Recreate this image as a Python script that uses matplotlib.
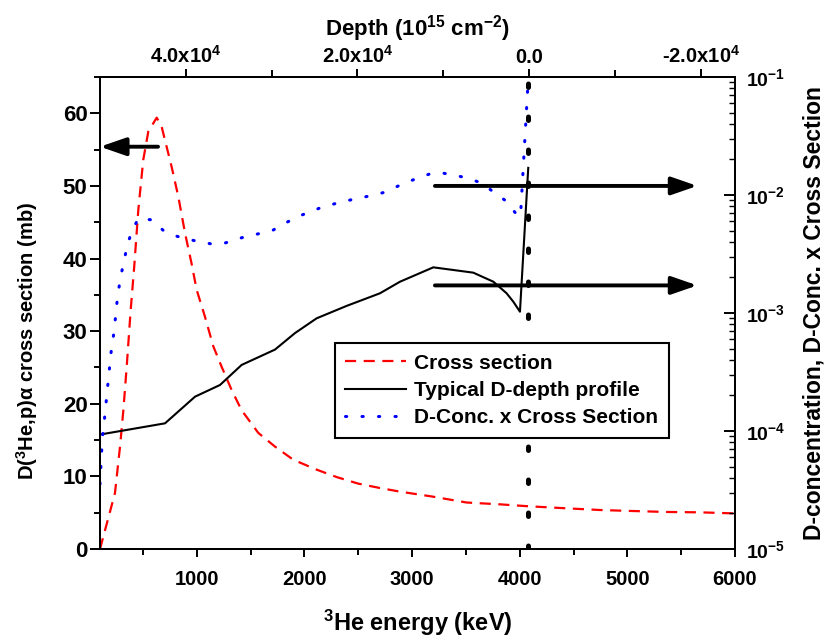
import matplotlib
matplotlib.use("Agg")
import matplotlib.pyplot as plt
from matplotlib.ticker import MultipleLocator, FixedLocator, LogLocator, NullFormatter
from matplotlib.lines import Line2D
import numpy as np

plt.rcParams['font.family'] = ['Liberation Sans', 'DejaVu Sans']
plt.rcParams['font.weight'] = 'bold'
plt.rcParams['mathtext.fontset'] = 'custom'
plt.rcParams['mathtext.rm'] = 'Liberation Sans:bold'
plt.rcParams['mathtext.bf'] = 'Liberation Sans:bold'
plt.rcParams['mathtext.it'] = 'Liberation Sans:bold:italic'
plt.rcParams['mathtext.default'] = 'regular'

# D(3He,p)alpha cross section (mb) vs 3He energy (keV)
xs_energy = [100, 239, 286, 317, 348, 385, 418, 456, 502, 549, 627, 672, 766, 828,
             890, 951, 998, 1075, 1153, 1230, 1323, 1416, 1570, 1726, 1895, 2100,
             2300, 2500, 2700, 2887, 3197, 3507, 3817, 4064, 4436, 4745, 5054,
             5364, 5674, 6000]
xs_value = [0.0, 7.7, 14.1, 19.1, 25.1, 32.9, 38.9, 46.7, 53.6, 57.5, 59.4, 58.2,
            52.6, 48.5, 43.5, 39.3, 35.7, 32.0, 27.9, 25.1, 21.9, 19.1, 16.0, 14.1,
            12.3, 11.0, 9.9, 9.0, 8.4, 7.9, 7.2, 6.4, 6.15, 5.9, 5.6, 5.37, 5.23,
            5.1, 5.05, 4.9]

# typical D-depth profile (D concentration, log10)
prof_energy = [100, 704, 983, 1215, 1416, 1726, 1912, 2113, 2391, 2701, 2887,
               3197, 3568, 3755, 3878, 3940, 4002, 4079]
prof_log = [-4.03, -3.935, -3.709, -3.61, -3.44, -3.31, -3.17, -3.045, -2.94,
            -2.833, -2.735, -2.613, -2.658, -2.735, -2.833, -2.904, -2.989, -1.77]

# D concentration x cross section (log10)
prod_energy = [100, 121, 146, 168, 202, 233, 255, 286, 332, 356, 394, 456, 574,
               688, 797, 914, 1029, 1137, 1252, 1366, 1477, 1592, 1709, 1819,
               1933, 2051, 2159, 2273, 2385, 2500, 2614, 2731, 2843, 2954, 3066,
               3181, 3296, 3413, 3521, 3636, 3754, 3868, 3958, 4007, 4080]
prod_log = [-4.45, -4.07, -3.86, -3.65, -3.34, -3.14, -2.93, -2.72, -2.52, -2.42,
            -2.31, -2.20, -2.21, -2.30, -2.345, -2.375, -2.396, -2.415, -2.41,
            -2.375, -2.347, -2.325, -2.297, -2.24, -2.184, -2.144, -2.104, -2.076,
            -2.05, -2.028, -2.006, -1.98, -1.935, -1.89, -1.853, -1.816, -1.816,
            -1.836, -1.858, -1.896, -1.972, -2.048, -2.15, -2.18, -1.0]

surface_energy = 4080  # depth = 0

bottom_ticks = [1000, 2000, 3000, 4000, 5000, 6000]
left_ticks = [0, 10, 20, 30, 40, 50, 60]
right_ticks = [1e-5, 1e-4, 1e-3, 1e-2, 1e-1]
right_labels = ['10$^{-5}$', '10$^{-4}$', '10$^{-3}$', '10$^{-2}$', '10$^{-1}$']
top_ticks = [40000, 20000, 0, -20000]
top_labels = ['4.0x10$^{4}$', '2.0x10$^{4}$', '0.0', '-2.0x10$^{4}$']

fig = plt.figure(figsize=(8.27, 6.40), dpi=100)
ax = fig.add_axes([100/827, 1-549/640, 635/827, 472/640])
axr = ax.twinx()
axt = ax.twiny()

for a in (ax, axr, axt):
    for s in a.spines.values():
        s.set_linewidth(1.4)

# left axis: cross section
ax.plot(xs_energy, xs_value, color='#ff0000', lw=1.6, linestyle=(0, (5, 3.4)))
ax.set_xlim(100, 6000)
ax.set_ylim(0, 65)
ax.xaxis.set_major_locator(FixedLocator(bottom_ticks))
ax.xaxis.set_minor_locator(MultipleLocator(500))
ax.yaxis.set_major_locator(FixedLocator(left_ticks))
ax.yaxis.set_minor_locator(MultipleLocator(5))
ax.tick_params(axis='x', which='major', direction='out', length=6, width=1.4,
               labelsize=14.5, pad=9)
ax.tick_params(axis='x', which='minor', direction='out', length=4, width=1.4)
ax.tick_params(axis='y', which='major', direction='out', length=7, width=1.4,
               labelsize=16, pad=2)
ax.tick_params(axis='y', which='minor', direction='out', length=4, width=1.4)
ax.set_xlabel('$^{3}$He energy (keV)', fontsize=17, fontweight='bold', labelpad=14)
ax.set_ylabel(r'D($^{3}$He,p)$\alpha$ cross section (mb)', fontsize=14.5,
              fontweight='bold')
ax.yaxis.set_label_coords(-0.094, 0.44)

# right axis: D concentration and product
axr.set_yscale('log')
axr.set_ylim(1e-5, 1e-1)
axr.plot(prof_energy, np.power(10.0, prof_log), color='black', lw=1.5)
axr.plot(prod_energy, np.power(10.0, prod_log), color='#0000ff', lw=2.2,
         linestyle=(0, (0.4, 5.0)), dash_capstyle='round')
axr.plot([surface_energy, surface_energy], [1e-5, 1e-1], color='black', lw=3.6,
         linestyle=(0, (0.7, 5.9)), dash_capstyle='round', zorder=3)
axr.yaxis.set_major_locator(FixedLocator(right_ticks))
axr.set_yticklabels(right_labels)
axr.yaxis.set_minor_locator(LogLocator(base=10, subs=np.arange(2, 10)))
axr.yaxis.set_minor_formatter(NullFormatter())
axr.tick_params(axis='y', which='major', direction='in', length=8, width=1.4,
                labelsize=14, pad=8)
axr.tick_params(axis='y', which='minor', direction='in', length=4, width=1.0)
axr.set_ylabel('D-concentration, D-Conc. x Cross Section', fontsize=16.5,
               fontweight='bold', labelpad=12)

# top axis: depth
axt.set_xlim(50000, -24000)
axt.xaxis.set_major_locator(FixedLocator(top_ticks))
axt.set_xticklabels(top_labels)
axt.xaxis.set_minor_locator(FixedLocator([30000, 10000, -10000]))
axt.tick_params(axis='x', which='major', direction='out', length=6, width=1.4,
                labelsize=14.5, pad=1)
axt.tick_params(axis='x', which='minor', direction='out', length=5, width=1.4)
axt.set_xlabel('Depth (10$^{15}$ cm$^{-2}$)', fontsize=16, fontweight='bold',
               labelpad=7)

# arrows pointing to the relevant axes
arrow_kw = dict(arrowstyle='-|>,head_length=1.3,head_width=0.45', color='black',
                lw=2.8, mutation_scale=12, shrinkA=0, shrinkB=0)
ax.annotate('', xy=(100, 55.4), xytext=(639, 55.4), arrowprops=arrow_kw)
ax.annotate('', xy=(5650, 50.0), xytext=(3212, 50.0), arrowprops=arrow_kw)
ax.annotate('', xy=(5650, 36.3), xytext=(3212, 36.3), arrowprops=arrow_kw)

handles = [Line2D([], [], color='#ff0000', lw=1.6, linestyle=(0, (5, 3.4))),
           Line2D([], [], color='black', lw=1.5),
           Line2D([], [], color='#0000ff', lw=2.2, linestyle=(0, (0.4, 5.0)),
                  dash_capstyle='round')]
labels = ['Cross section', 'Typical D-depth profile', 'D-Conc. x Cross Section']
leg = axr.legend(handles, labels, loc='upper left', bbox_to_anchor=(0.370, 0.436),
                 borderaxespad=0, frameon=True, fancybox=False, framealpha=1,
                 edgecolor='black', prop=dict(size=15, weight='bold'),
                 handlelength=2.9, labelspacing=0.4, borderpad=0.5,
                 handletextpad=0.4)
leg.get_frame().set_linewidth(1.5)
leg.set_zorder(10)

fig.savefig('out.png', dpi=100)
